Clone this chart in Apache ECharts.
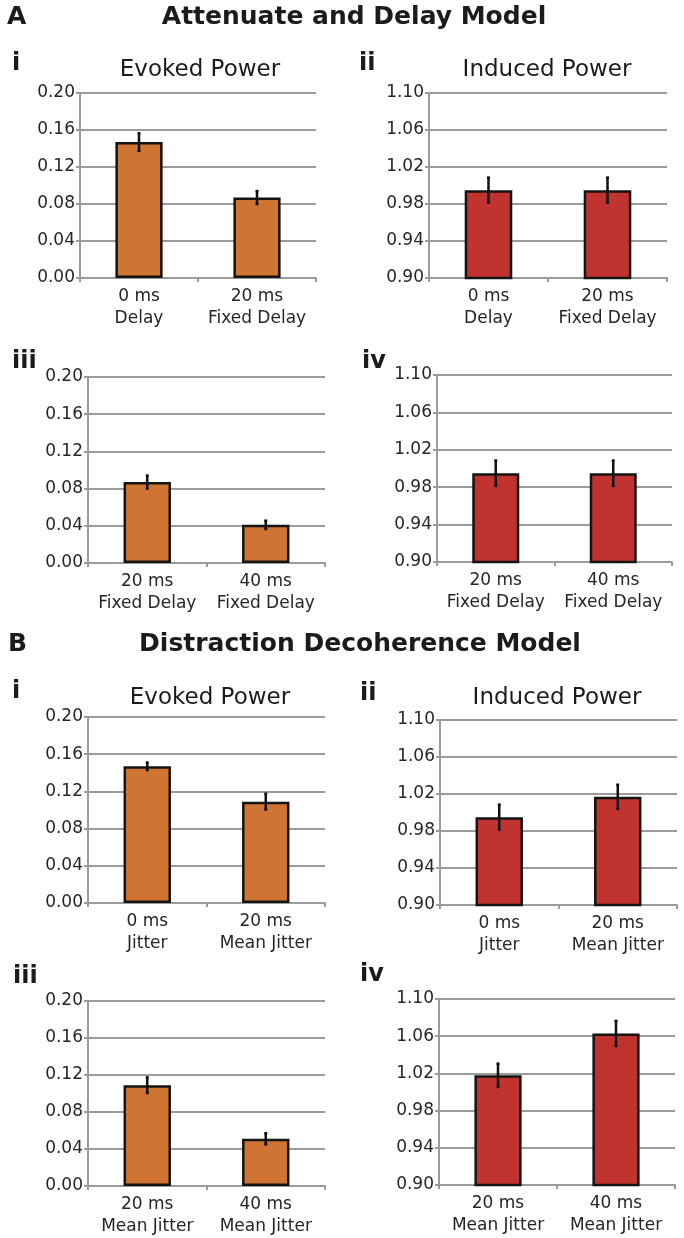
<!DOCTYPE html>
<html><head><meta charset="utf-8">
<script src="https://cdn.jsdelivr.net/npm/echarts@6/dist/echarts.min.js"></script>
<style>html,body{margin:0;padding:0;background:#fff}#c{width:684px;height:1238px}</style>
</head><body><div id="c"></div>
<script>
// ---- data ----
const catsDelayA = ['0 ms\nDelay', '20 ms\nFixed Delay'];
const catsDelayB = ['20 ms\nFixed Delay', '40 ms\nFixed Delay'];
const catsJitterA = ['0 ms\nJitter', '20 ms\nMean Jitter'];
const catsJitterB = ['20 ms\nMean Jitter', '40 ms\nMean Jitter'];

const evokedTicks = [0.00, 0.04, 0.08, 0.12, 0.16, 0.20];
const inducedTicks = [0.90, 0.94, 0.98, 1.02, 1.06, 1.10];

const aEvoked1 = [0.147, 0.087];   const aEvoked1Err = [0.0095, 0.007];
const aInduced1 = [0.995, 0.995];  const aInduced1Err = [0.0135, 0.0135];
const aEvoked2 = [0.087, 0.041];   const aEvoked2Err = [0.007, 0.0045];
const aInduced2 = [0.995, 0.995];  const aInduced2Err = [0.0135, 0.0135];
const bEvoked1 = [0.147, 0.109];   const bEvoked1Err = [0.004, 0.0085];
const bInduced1 = [0.995, 1.017];  const bInduced1Err = [0.0135, 0.013];
const bEvoked2 = [0.109, 0.051];   const bEvoked2Err = [0.0085, 0.006];
const bInduced2 = [1.018, 1.063];  const bInduced2Err = [0.0125, 0.0135];

const sectionTitles = ['Attenuate and Delay Model', 'Distraction Decoherence Model'];
const sectionLetters = ['A', 'B'];
const panelTitles = ['Evoked Power', 'Induced Power'];
const romans = ['i', 'ii', 'iii', 'iv'];

// ---- layout / style ----
const ORANGE = '#D07433', RED = '#C1332E';
const FONT = '"DejaVu Sans", "Liberation Sans", Arial, sans-serif';
const panels = [
  {cats: catsDelayA, v: aEvoked1, e: aEvoked1Err, ticks: evokedTicks, color: ORANGE, g: [80, 93, 236, 185]},
  {cats: catsDelayA, v: aInduced1, e: aInduced1Err, ticks: inducedTicks, color: RED, g: [429, 93, 238, 185]},
  {cats: catsDelayB, v: aEvoked2, e: aEvoked2Err, ticks: evokedTicks, color: ORANGE, g: [88, 377, 237, 186]},
  {cats: catsDelayB, v: aInduced2, e: aInduced2Err, ticks: inducedTicks, color: RED, g: [437, 375, 235, 187]},
  {cats: catsJitterA, v: bEvoked1, e: bEvoked1Err, ticks: evokedTicks, color: ORANGE, g: [88, 717, 237, 186]},
  {cats: catsJitterA, v: bInduced1, e: bInduced1Err, ticks: inducedTicks, color: RED, g: [440, 720, 237, 185]},
  {cats: catsJitterB, v: bEvoked2, e: bEvoked2Err, ticks: evokedTicks, color: ORANGE, g: [88, 1001, 237, 186]},
  {cats: catsJitterB, v: bInduced2, e: bInduced2Err, ticks: inducedTicks, color: RED, g: [439, 999, 236, 186]}
];

const grid = [], xAxis = [], yAxis = [], series = [];
panels.forEach((p, i) => {
  grid.push({left: p.g[0], top: p.g[1], width: p.g[2], height: p.g[3], containLabel: false});
  xAxis.push({
    type: 'category', gridIndex: i, data: p.cats,
    axisLine: {lineStyle: {color: '#9b9b9b', width: 2}},
    axisTick: {show: true, length: 4, alignWithLabel: false, lineStyle: {color: '#9b9b9b', width: 2}},
    axisLabel: {interval: 0, fontFamily: FONT, fontSize: 17, lineHeight: 22, color: '#262626', margin: 8}
  });
  const t = p.ticks;
  const step = +(t[1] - t[0]).toFixed(4);
  yAxis.push({
    type: 'value', gridIndex: i, min: t[0], max: t[t.length - 1], interval: step,
    axisLine: {show: true, lineStyle: {color: '#9b9b9b', width: 2}},
    axisTick: {show: true, length: 4, lineStyle: {color: '#9b9b9b', width: 2}},
    splitLine: {show: true, lineStyle: {color: '#9b9b9b', width: 2}},
    axisLabel: {fontFamily: FONT, fontSize: 17, color: '#262626', margin: 5,
      formatter: v => v.toFixed(2)}
  });
  series.push({
    type: 'bar', xAxisIndex: i, yAxisIndex: i, data: p.v, barWidth: '40%',
    itemStyle: {color: p.color, borderColor: '#141414', borderWidth: 2.5},
    silent: true, animation: false
  });
  series.push({
    type: 'custom', xAxisIndex: i, yAxisIndex: i, z: 5, silent: true, animation: false,
    data: p.v.map((v, k) => [k, v - p.e[k], v + p.e[k]]),
    renderItem: function (params, api) {
      const lo = api.coord([api.value(0), api.value(1)]);
      const hi = api.coord([api.value(0), api.value(2)]);
      const w = 1.5, st = {stroke: '#111', lineWidth: 2.5};
      return {type: 'group', children: [
        {type: 'line', shape: {x1: lo[0], y1: lo[1], x2: hi[0], y2: hi[1]}, style: st},
        {type: 'line', shape: {x1: hi[0] - w, y1: hi[1], x2: hi[0] + w, y2: hi[1]}, style: st},
        {type: 'line', shape: {x1: lo[0] - w, y1: lo[1], x2: lo[0] + w, y2: lo[1]}, style: st}
      ]};
    }
  });
});

function txt(text, x, y, size, bold, align) {
  return {type: 'text', x: x, y: y, silent: true,
    style: {text: text, font: (bold ? 'bold ' : '') + size + 'px ' + FONT,
      fill: '#1b1b1b', align: align || 'left', verticalAlign: 'middle',
      textAlign: align || 'left', textVerticalAlign: 'middle'}};
}

const graphic = [
  txt(sectionLetters[0], 7, 17, 25, true),
  txt(sectionTitles[0], 354, 17, 25, true, 'center'),
  txt(sectionLetters[1], 8, 644, 25, true),
  txt(sectionTitles[1], 360, 644, 25, true, 'center'),
  txt(panelTitles[0], 200, 70, 23, false, 'center'),
  txt(panelTitles[1], 547, 70, 23, false, 'center'),
  txt(panelTitles[0], 210, 698, 23, false, 'center'),
  txt(panelTitles[1], 557, 698, 23, false, 'center'),
  txt(romans[0], 12, 64, 24, true),
  txt(romans[1], 359, 64, 24, true),
  txt(romans[2], 12, 362, 24, true),
  txt(romans[3], 362, 362, 24, true),
  txt(romans[0], 12, 692, 24, true),
  txt(romans[1], 360, 694, 24, true),
  txt(romans[2], 13, 977, 24, true),
  txt(romans[3], 360, 975, 24, true)
];

const chart = echarts.init(document.getElementById('c'), null, {renderer: 'canvas'});
chart.setOption({backgroundColor: '#fff', animation: false, grid, xAxis, yAxis, series, graphic});
</script>
</body></html>
